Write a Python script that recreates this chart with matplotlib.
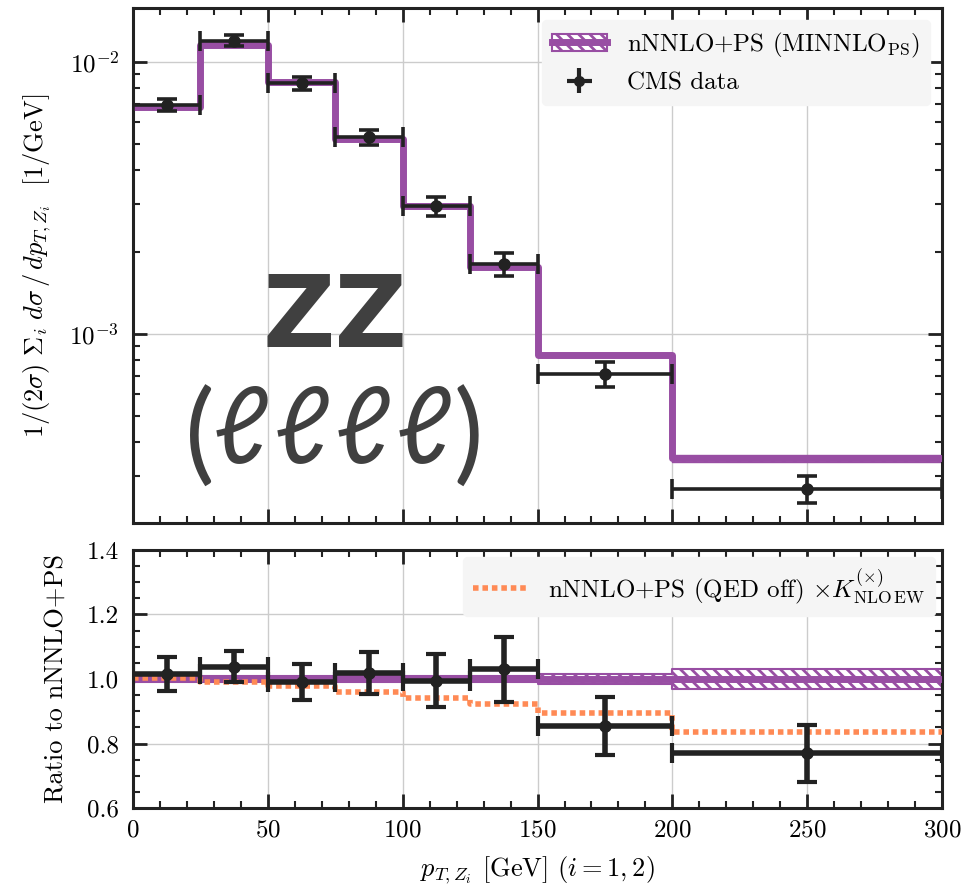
import numpy as np
import matplotlib
matplotlib.use("Agg")
import matplotlib.pyplot as plt
from matplotlib.patches import Patch
from matplotlib.lines import Line2D
from matplotlib.ticker import MultipleLocator, LogLocator, NullFormatter, FormatStrFormatter

plt.rcParams.update({
    "font.family": "serif",
    "font.serif": ["cmr10"],
    "mathtext.fontset": "cm",
    "axes.formatter.use_mathtext": True,
    "axes.unicode_minus": False,
    "hatch.linewidth": 2.0,
})

# Binning in p_T,Z (GeV)
bin_edges = [0, 25, 50, 75, 100, 125, 150, 200, 300]

# nNNLO+PS (MiNNLO_PS) prediction, 1/GeV
theory = [6.84e-3, 1.155e-2, 8.44e-3, 5.21e-3, 2.96e-3, 1.76e-3, 8.38e-4, 3.50e-4]
# relative scale-uncertainty half-width of the prediction
theory_unc = [0.010, 0.010, 0.010, 0.010, 0.010, 0.010, 0.017, 0.030]

# CMS measurement, 1/GeV
cms = [6.94e-3, 1.199e-2, 8.36e-3, 5.30e-3, 2.945e-3, 1.813e-3, 7.16e-4, 2.695e-4]
cms_err = [3.6e-4, 5.6e-4, 4.6e-4, 3.4e-4, 2.4e-4, 1.76e-4, 7.5e-5, 3.1e-5]

# nNNLO+PS (QED off) x K_NLO EW, ratio to nNNLO+PS
ew_ratio = [1.003, 0.990, 0.978, 0.961, 0.941, 0.922, 0.896, 0.837]

purple = "#984ea3"
orange = "#ff8a55"
dark = "#222222"
label_grey = "#404040"

edges = np.array(bin_edges, dtype=float)
th = np.array(theory)
centers = 0.5 * (edges[:-1] + edges[1:])
halfw = 0.5 * np.diff(edges)
data = np.array(cms)
derr = np.array(cms_err)

def step_vals(v):
    v = np.asarray(v)
    return np.append(v, v[-1])

fig = plt.figure(figsize=(9.69, 8.96), dpi=100)
ax1 = fig.add_axes([0.1373, 0.4163, 0.8349, 0.5748])
ax2 = fig.add_axes([0.1373, 0.0982, 0.8349, 0.2880])

fs = 18

for ax in (ax1, ax2):
    ax.grid(True, which="major", color="#cccccc", lw=1.0, zorder=0)
    ax.set_axisbelow(True)
    for sp in ax.spines.values():
        sp.set_linewidth(2.2)
        sp.set_color(dark)
    ax.tick_params(which="both", direction="in", top=True, right=True,
                   labelsize=fs, color=dark)
    ax.tick_params(which="major", length=10, width=2)
    ax.tick_params(which="minor", length=5, width=1.5)
    ax.tick_params(axis="y", which="major", pad=10)
    ax.tick_params(axis="x", which="major", pad=8)
    ax.set_xlim(0, 300)
    ax.xaxis.set_major_locator(MultipleLocator(50))
    ax.xaxis.set_minor_locator(MultipleLocator(10))

# ---- upper panel: distribution ----
ax1.set_yscale("log")
ax1.set_ylim(2.02e-4, 1.58e-2)
ax1.yaxis.set_minor_locator(LogLocator(base=10, subs=np.arange(2, 10)))
ax1.yaxis.set_minor_formatter(NullFormatter())
ax1.tick_params(labelbottom=False)

ax1.fill_between(edges, step_vals(th * (1 - np.array(theory_unc))),
                 step_vals(th * (1 + np.array(theory_unc))), step="post",
                 facecolor="none", edgecolor=purple, hatch="\\\\\\", lw=1, zorder=2)
ax1.step(edges, step_vals(th), where="post", color=purple, lw=5, zorder=3)
ax1.errorbar(centers, data, yerr=derr, xerr=halfw, fmt="o", color=dark,
             ms=8, elinewidth=2.6, capsize=7, capthick=2.6, zorder=4)

ax1.set_ylabel(r"$1/(2\sigma)\ \Sigma_i\ d\sigma\,/\,dp_{T,Z_i}$  [1/GeV]",
               fontsize=19, labelpad=12)

# process label
sans = ["Lato", "DejaVu Sans"]
ax1.text(0.25, 0.342, "ZZ", transform=ax1.transAxes, ha="center", va="baseline",
         fontsize=72, fontweight="bold", family="DejaVu Sans", color=label_grey)
ax1.text(0.083, 0.101, "(", transform=ax1.transAxes, ha="center", va="baseline",
         fontsize=80, family=sans, fontweight="normal", color=label_grey)
ax1.text(0.414, 0.101, ")", transform=ax1.transAxes, ha="center", va="baseline",
         fontsize=80, family=sans, fontweight="normal", color=label_grey)
for xc in (0.133, 0.209, 0.284, 0.359):
    ax1.text(xc, 0.118, "ℓ", transform=ax1.transAxes, ha="center", va="baseline",
             fontsize=76, family=sans, fontweight="normal", style="italic",
             color=label_grey)

h_band = (Patch(facecolor="white", edgecolor=purple, hatch="\\\\\\", lw=1.5),
          Line2D([], [], color=purple, lw=5))
h_cms = ax1.errorbar([], [], yerr=[], xerr=[], fmt="o", color=dark, ms=7,
                     elinewidth=3, capsize=4, capthick=3)
ax1.legend([h_band, h_cms],
           [r"nNNLO+PS (MINNLO$_{\rm PS}$)", "CMS data"],
           loc="upper right", fontsize=fs, frameon=True, fancybox=True,
           framealpha=1.0, facecolor="#f5f5f5", edgecolor="#f5f5f5",
           handlelength=2.2, borderaxespad=0.5)

# ---- lower panel: ratio to nNNLO+PS ----
ax2.set_ylim(0.6, 1.4)
ax2.yaxis.set_major_locator(MultipleLocator(0.2))
ax2.yaxis.set_minor_locator(MultipleLocator(0.05))
ax2.yaxis.set_major_formatter(FormatStrFormatter("%.1f"))

unc = np.array(theory_unc)
ax2.fill_between(edges, step_vals(1 - unc), step_vals(1 + unc), step="post",
                 facecolor="none", edgecolor=purple, hatch="\\\\\\", lw=1.5, zorder=2)
ax2.step(edges, step_vals(np.ones_like(th)), where="post", color=purple, lw=5, zorder=3)
ax2.step(edges, step_vals(ew_ratio), where="post", color=orange, lw=4,
         ls=(0, (1, 0.7)), zorder=4)
ax2.errorbar(centers, data / th, yerr=derr / th, xerr=halfw, fmt="o", color=dark,
             ms=8, elinewidth=4, capsize=7, capthick=3, zorder=5)

h_ew = Line2D([], [], color=orange, lw=4, ls=(0, (1, 0.7)))
ax2.legend([h_ew], [r"nNNLO+PS (QED off) $\times K^{(\times)}_{\rm NLO\,EW}$"],
           loc="upper right", fontsize=fs, frameon=True, framealpha=1.0,
           facecolor="#f5f5f5", edgecolor="#f5f5f5", handlelength=2.2,
           borderaxespad=0.3)

ax2.set_ylabel("Ratio to nNNLO+PS", fontsize=19, labelpad=14)
ax2.set_xlabel(r"$p_{T,Z_i}$ [GeV] $(i=1,2)$", fontsize=19, labelpad=10)

fig.savefig("out.png", dpi=100)
